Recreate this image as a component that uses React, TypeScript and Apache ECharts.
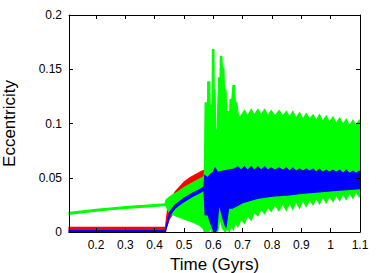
import React, { useEffect, useRef } from "react";
import * as echarts from "echarts";

// Tick labels
const xTicks = [0.2, 0.3, 0.4, 0.5, 0.6, 0.7, 0.8, 0.9, 1.0, 1.1];
const yTicks = [0, 0.05, 0.1, 0.15, 0.2];

// Envelopes [time, eccentricity]
const redUpper = [[0.108,0.0042],[0.437,0.0042],[0.44,0.012],[0.445,0.022],[0.455,0.030],[0.47,0.037],[0.48,0.040],[0.5,0.046],[0.52,0.050],[0.54,0.053],[0.56,0.056],[0.571,0.057]];
const redLower = [[0.108,0.0022],[0.437,0.0022],[0.44,0.004],[0.45,0.012],[0.47,0.02],[0.5,0.028],[0.54,0.035],[0.571,0.04]];

const greenUpper = [[0.108,0.018],[0.15,0.0193],[0.2,0.0208],[0.25,0.0221],[0.3,0.0233],[0.35,0.0243],[0.4,0.0252],[0.436,0.026],
  [0.437,0.028],[0.44,0.030],[0.46,0.034],[0.48,0.037],[0.5,0.041],[0.52,0.044],[0.54,0.047],[0.56,0.050],[0.569,0.051],
  [0.571,0.090],[0.572,0.119],[0.578,0.119],[0.580,0.100],[0.581,0.1385],[0.588,0.1385],[0.589,0.117],[0.593,0.117],[0.595,0.095],[0.597,0.168],[0.602,0.168],[0.603,0.131],[0.606,0.131],[0.608,0.094],[0.613,0.094],[0.618,0.142],[0.623,0.142],[0.624,0.162],[0.629,0.162],[0.631,0.151],[0.636,0.151],[0.638,0.131],[0.643,0.131],[0.646,0.111],[0.652,0.111],[0.655,0.100],[0.657,0.122],[0.663,0.122],[0.667,0.135],[0.672,0.135],[0.675,0.119],[0.680,0.119],[0.686,0.106],
  [0.695,0.107],[0.706,0.112],[0.717,0.107],[0.729,0.113],[0.740,0.108],[0.752,0.113],[0.763,0.108],[0.775,0.113],[0.786,0.107],[0.797,0.112],[0.810,0.107],[0.824,0.112],[0.836,0.107],[0.849,0.111],[0.860,0.106],[0.871,0.111],[0.882,0.105],[0.894,0.110],[0.905,0.104],[0.917,0.109],[0.928,0.104],[0.940,0.108],[0.951,0.103],[0.962,0.108],[0.973,0.102],[0.985,0.107],[0.996,0.101],[1.008,0.106],[1.019,0.100],[1.031,0.105],[1.042,0.099],[1.053,0.104],[1.064,0.098],[1.076,0.103],[1.086,0.098],[1.097,0.103],[1.1,0.101]];
const greenLower = [[0.108,0.0164],[0.15,0.0177],[0.2,0.0192],[0.25,0.0205],[0.3,0.0217],[0.35,0.0227],[0.4,0.0236],[0.436,0.0244],
  [0.437,0.025],[0.44,0.023],[0.45,0.018],[0.47,0.015],[0.5,0.012],[0.53,0.009],[0.555,0.006],[0.566,0.003],[0.569,0.0],
  [0.585,0.0],[0.59,0.004],[0.595,0.0],[0.615,0.0],[0.62,0.008],[0.625,0.012],[0.63,0.004],[0.64,0.0],[0.648,0.003],[0.655,0.0],[0.66,0.006],[0.668,0.002],[0.675,0.009],
  [0.684,0.005],[0.695,0.012],[0.706,0.008],[0.717,0.015],[0.729,0.011],[0.740,0.018],[0.752,0.015],[0.763,0.021],[0.775,0.017],[0.786,0.023],[0.797,0.019],[0.810,0.025],[0.824,0.0195],[0.836,0.026],[0.849,0.020],[0.860,0.027],[0.871,0.021],[0.882,0.028],[0.894,0.022],[0.905,0.029],[0.917,0.0235],[0.928,0.030],[0.940,0.025],[0.951,0.031],[0.962,0.026],[0.973,0.032],[0.985,0.027],[0.996,0.033],[1.008,0.028],[1.019,0.034],[1.031,0.029],[1.042,0.035],[1.053,0.030],[1.064,0.036],[1.076,0.031],[1.086,0.037],[1.097,0.0325],[1.1,0.036]];

const blueUpper = [[0.108,0.0012],[0.437,0.0012],[0.44,0.006],[0.445,0.012],[0.453,0.019],[0.47,0.025],[0.5,0.031],[0.53,0.036],[0.56,0.040],[0.568,0.042],[0.571,0.052],[0.58,0.050],[0.59,0.053],[0.6,0.055],[0.606,0.059],[0.615,0.055],[0.63,0.056],[0.65,0.057],[0.67,0.058],
  [0.684,0.060],[0.695,0.057],[0.706,0.060],[0.717,0.057],[0.729,0.060],[0.740,0.057],[0.752,0.060],[0.763,0.057],[0.775,0.060],[0.786,0.057],[0.797,0.059],[0.810,0.057],[0.824,0.059],[0.836,0.057],[0.849,0.059],[0.860,0.056],[0.871,0.059],[0.882,0.056],[0.894,0.058],[0.905,0.056],[0.917,0.058],[0.928,0.056],[0.940,0.058],[0.951,0.055],[0.962,0.058],[0.973,0.055],[0.985,0.057],[0.996,0.055],[1.008,0.057],[1.019,0.055],[1.031,0.057],[1.042,0.054],[1.053,0.057],[1.064,0.054],[1.076,0.056],[1.086,0.054],[1.097,0.056],[1.1,0.055]];
const blueLower = [[0.108,0.0],[0.437,0.0],[0.44,0.004],[0.445,0.009],[0.453,0.016],[0.47,0.022],[0.5,0.028],[0.53,0.033],[0.56,0.037],[0.568,0.039],[0.572,0.016],[0.582,0.0157],[0.589,0.0095],[0.6,0.002],[0.606,0.0],[0.612,0.002],[0.618,0.023],[0.623,0.023],[0.632,0.013],[0.643,0.004],[0.652,0.022],[0.664,0.022],[0.68,0.024],[0.7,0.027],[0.75,0.031],[0.8,0.033],[0.85,0.034],[0.9,0.0355],[0.96,0.037],[1.03,0.0385],[1.1,0.040]];

const FONT = "'Liberation Sans', Arial, Helvetica, sans-serif";

function band(name: string, color: string, upper: number[][], lower: number[][], z: number) {
  return {
    type: "custom",
    name,
    coordinateSystem: "cartesian2d",
    xAxisIndex: 0,
    yAxisIndex: 0,
    silent: true,
    z,
    data: [[upper[0][0], upper[0][1]]],
    renderItem: (_params: any, api: any) => {
      const pts = upper.map((p) => api.coord(p)).concat(lower.slice().reverse().map((p) => api.coord(p)));
      return {
        type: "polygon",
        shape: { points: pts },
        style: { fill: color, stroke: color, lineWidth: 1.2 },
      };
    },
  };
}

export default function App() {
  const ref = useRef<HTMLDivElement>(null);
  useEffect(() => {
    if (!ref.current) return;
    const chart = echarts.init(ref.current, undefined, { renderer: "svg" });
    const axisCommon = {
      axisLine: { show: true, onZero: false, lineStyle: { color: "#000", width: 1 } },
      splitLine: { show: false },
      z: 10,
    };
    chart.setOption({
      animation: false,
      backgroundColor: "#fff",
      grid: { left: 69, right: 29, top: 15, bottom: 41, containLabel: false, outerBoundsMode: "none" },
      xAxis: [
        {
          ...axisCommon,
          type: "value",
          position: "bottom",
          min: 0.108,
          max: 1.1,
          name: "Time (Gyrs)",
          nameLocation: "middle",
          nameGap: 23,
          nameTextStyle: { fontFamily: FONT, fontSize: 17, color: "#000" },
          axisTick: { show: true, inside: true, length: 4, customValues: xTicks, lineStyle: { color: "#000" } },
          axisLabel: {
            show: true,
            customValues: xTicks,
            margin: 7,
            fontFamily: FONT,
            fontSize: 12,
            color: "#000",
            formatter: (v: number) => String(Math.round(v * 10) / 10),
          },
        },
        {
          ...axisCommon,
          type: "value",
          position: "top",
          min: 0.108,
          max: 1.1,
          axisTick: { show: true, inside: true, length: 4, customValues: xTicks, lineStyle: { color: "#000" } },
          axisLabel: { show: false },
        },
      ],
      yAxis: [
        {
          ...axisCommon,
          type: "value",
          position: "left",
          min: 0,
          max: 0.2,
          interval: 0.05,
          name: "Eccentricity",
          nameLocation: "middle",
          nameGap: 51,
          nameTextStyle: { fontFamily: FONT, fontSize: 17, color: "#000" },
          axisTick: { show: true, inside: true, length: 4, lineStyle: { color: "#000" } },
          axisLabel: {
            show: true,
            margin: 7,
            fontFamily: FONT,
            fontSize: 12,
            color: "#000",
            formatter: (v: number) => String(Math.round(v * 100) / 100),
          },
        },
        {
          ...axisCommon,
          type: "value",
          position: "right",
          min: 0,
          max: 0.2,
          interval: 0.05,
          axisTick: { show: true, inside: true, length: 4, lineStyle: { color: "#000" } },
          axisLabel: { show: false },
        },
      ],
      series: [
        band("red", "#ff0000", redUpper, redLower, 2),
        band("green", "#00ff00", greenUpper, greenLower, 3),
        band("blue", "#0000ff", blueUpper, blueLower, 4),
      ],
    });
    return () => chart.dispose();
  }, []);
  return (
    <div
      ref={ref}
      style={{ position: "fixed", left: 0, top: 0, width: 389, height: 273, background: "#fff" }}
    />
  );
}
